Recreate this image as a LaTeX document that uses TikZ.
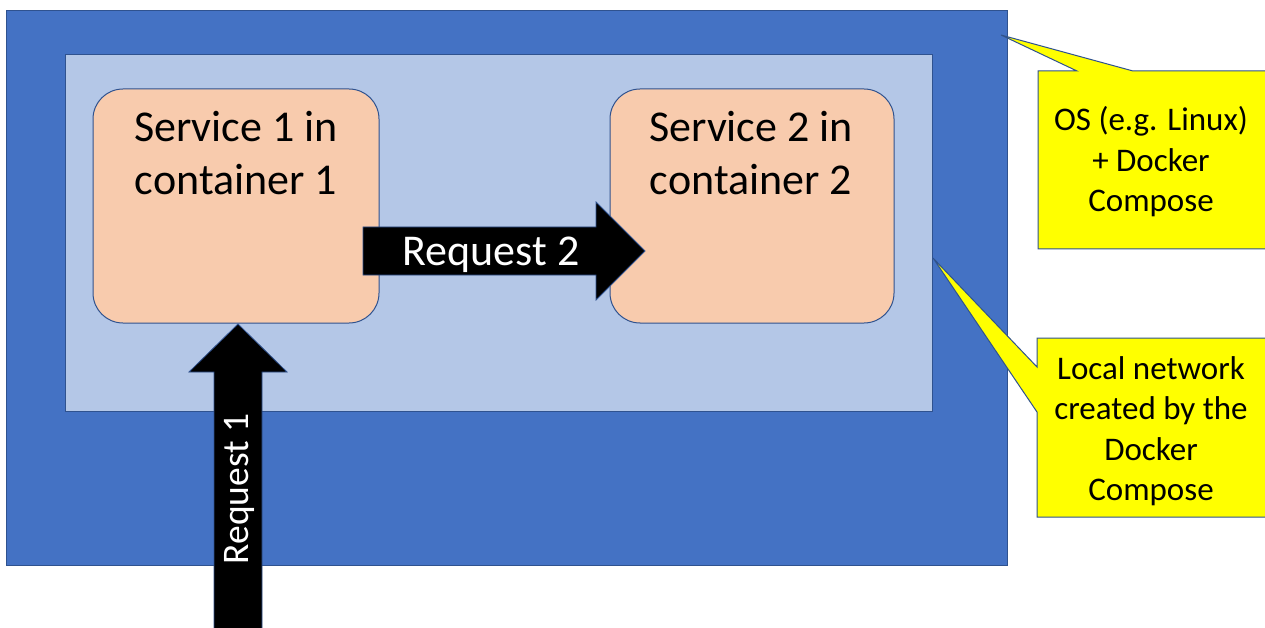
\documentclass[tikz,border=0pt]{standalone}
\usepackage{fontspec}
\setmainfont{Carlito}
\definecolor{osblue}{HTML}{4472C4}
\definecolor{edgeblue}{HTML}{2F528F}
\definecolor{netblue}{HTML}{B4C7E7}
\definecolor{peach}{HTML}{F8CBAD}
\definecolor{notey}{HTML}{FFFF00}
\tikzset{
  panel/.style={draw=edgeblue, line width=1pt, inner sep=0pt, outer sep=0pt},
  svcbox/.style={panel, fill=peach, rounded corners=30pt},
  svctext/.style={inner sep=0pt, align=center, anchor=north,
    font=\fontsize{44}{53}\selectfont},
  notebox/.style={draw=edgeblue, line width=1pt, fill=notey, line join=miter},
  notetext/.style={inner sep=0pt, align=center,
    font=\fontsize{33}{40.5}\selectfont},
  blockarrow/.style={fill=black, draw=edgeblue, line width=0.8pt, line join=miter},
  arrowtext/.style={inner sep=0pt, text=white}
}
\begin{document}
\begin{tikzpicture}[x=1pt,y=-1pt]
\useasboundingbox (0,0) rectangle (1265,628);

% host operating system and the compose network inside it
\node[panel, fill=osblue, minimum width=1001pt, minimum height=554pt] (os) at (506.5,288) {};
\node[panel, fill=netblue, minimum width=867pt, minimum height=356pt] (net) at (498.5,233) {};

% the two containers
\node[svcbox, minimum width=286pt, minimum height=234pt] (svc1) at (236,206) {};
\node[svcbox, minimum width=284pt, minimum height=234pt] (svc2) at (752,206) {};
\node[svctext] (svc1label) at (236,111) {Service 1 in\\container 1};
\node[svctext] (svc2label) at (751,111) {Service 2 in\\container 2};

% request 2: container 1 -> container 2
\coordinate (r2from) at (363,251);
\coordinate (r2to) at (645,251);
\path[blockarrow] ([yshift=-24pt]r2from) -- ([xshift=-49pt,yshift=-24pt]r2to)
  -- ([xshift=-49pt,yshift=-49pt]r2to) -- (r2to)
  -- ([xshift=-49pt,yshift=49pt]r2to) -- ([xshift=-49pt,yshift=24pt]r2to)
  -- ([yshift=24pt]r2from) -- cycle;
\node[arrowtext, font=\fontsize{44}{53}\selectfont] (r2label) at (491,254.5) {Request 2};

% request 1: from outside into container 1
\coordinate (r1from) at (238,640);
\coordinate (r1to) at (238,324);
\path[blockarrow] ([xshift=-24pt]r1from) -- ([xshift=-24pt,yshift=-48pt]r1to)
  -- ([xshift=-49pt,yshift=-48pt]r1to) -- (r1to)
  -- ([xshift=49pt,yshift=-48pt]r1to) -- ([xshift=24pt,yshift=-48pt]r1to)
  -- ([xshift=24pt]r1from) -- cycle;
\node[arrowtext, rotate=90, font=\fontsize{37.5}{45}\selectfont] (r1label) at (239.5,489) {Request 1};

% callouts
\coordinate (tip1) at (1001,35);
\coordinate (tip2) at (933,258);
\path[notebox] (1038,71) -- (1077,71) -- (tip1) -- (1133,71) -- (1267,71)
  -- (1267,249) -- (1038,249) -- cycle;
\path[notebox] (1037,338) -- (1267,338) -- (1267,517) -- (1037,517)
  -- (1037,412) -- (tip2) -- (1037,367) -- cycle;
\node[notetext] (note1) at (1151,162) {OS (e.g. Linux)\\+ Docker\\Compose};
\node[notetext] (note2) at (1151,431) {Local network\\created by the\\Docker\\Compose};
\end{tikzpicture}
\end{document}
